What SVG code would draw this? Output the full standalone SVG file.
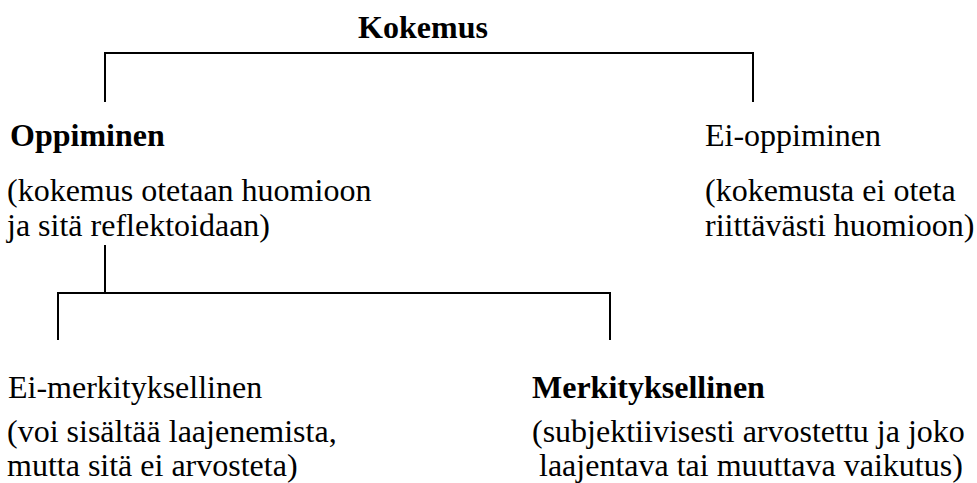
<svg xmlns="http://www.w3.org/2000/svg" width="977" height="483" viewBox="0 0 977 483">
<style>
text{font-family:"Liberation Serif","Times New Roman",serif;font-size:32px;fill:#000}
.b{font-weight:bold}
.c{stroke:#000;stroke-width:2;fill:none}
</style>
<rect width="977" height="483" fill="#fff"/>
<g id="connectors">
<path class="c" d="M105,102 V53 H753 V102"/>
<path class="c" d="M105,245 V293"/>
<path class="c" d="M58,340 V293 H610 V340"/>
</g>
<g id="kokemus"><text class="b" x="423" y="38" text-anchor="middle">Kokemus</text></g>
<g id="oppiminen">
<text class="b" x="10" y="146">Oppiminen</text>
<text x="7" y="201">(kokemus otetaan huomioon</text>
<text x="7" y="236">ja sitä reflektoidaan)</text>
</g>
<g id="ei-oppiminen">
<text x="705" y="146">Ei-oppiminen</text>
<text x="705" y="201">(kokemusta ei oteta</text>
<text x="705" y="236">riittävästi huomioon)</text>
</g>
<g id="ei-merkityksellinen">
<text x="8" y="398">Ei-merkityksellinen</text>
<text x="7" y="442">(voi sisältää laajenemista,</text>
<text x="7" y="476">mutta sitä ei arvosteta)</text>
</g>
<g id="merkityksellinen">
<text class="b" x="532" y="398">Merkityksellinen</text>
<text x="532" y="442">(subjektiivisesti arvostettu ja joko</text>
<text x="539" y="476">laajentava tai muuttava vaikutus)</text>
</g>
</svg>
